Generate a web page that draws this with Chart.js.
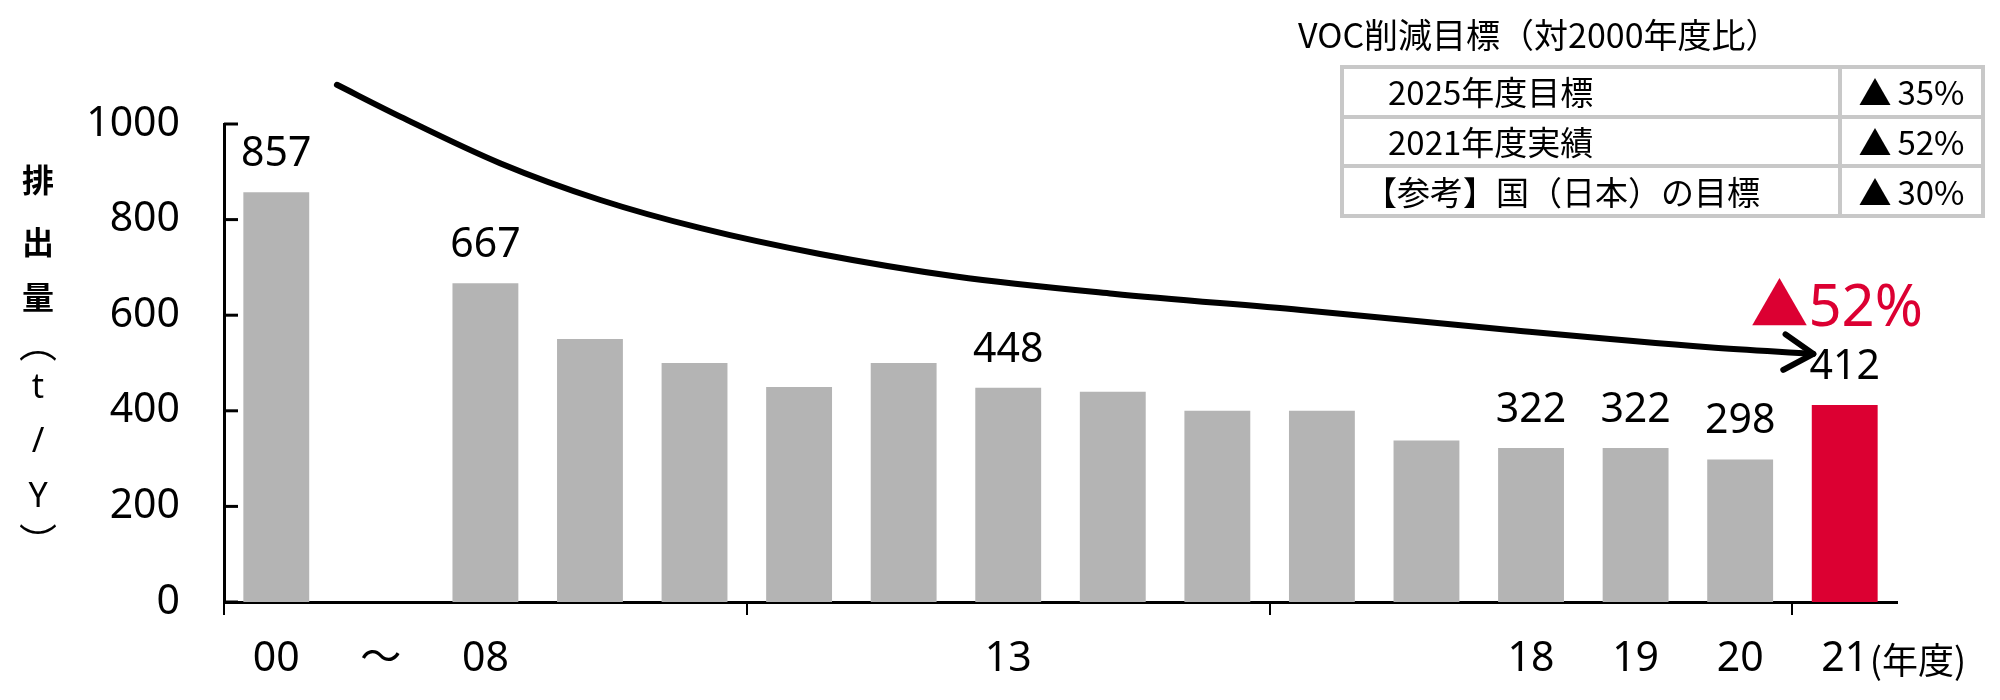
<!DOCTYPE html>
<html lang="ja">
<head>
<meta charset="utf-8">
<script src="https://cdn.jsdelivr.net/npm/chart.js@4/dist/chart.umd.min.js"></script>
<style>
    body { margin: 0; background: #fff; }
    #wrap { position: relative; width: 2000px; height: 700px; }
    #goal-title {
        position: absolute; left: 1298px; top: 9px;
        font: 34px 'Noto Sans CJK JP', sans-serif; color: #000; white-space: nowrap;
    }
    #goal-table {
        position: absolute; left: 1340px; top: 65px; width: 645px; height: 153px;
        border-collapse: collapse; font: 33px 'Noto Sans CJK JP', sans-serif;
    }
    #goal-table td { border: 4px solid #c8c8c8; padding: 0; white-space: nowrap; line-height: 1; }
    #goal-table td.name { width: 450px; padding-left: 44px; }
    #goal-table td.name.ref { padding-left: 20px; }
    #goal-table td.pct { text-align: center; }
    #goal-table td.pct span { margin-right: 6px; }
</style>
</head>
<body>
<div id="wrap">
    <canvas id="vocChart"></canvas>
    <div id="goal-title">VOC削減目標（対2000年度比）</div>
    <table id="goal-table"><tbody></tbody></table>
</div>
<script>
const years = ['00', '～', '08', '09', '10', '11', '12', '13', '14', '15', '16', '17', '18', '19', '20', '21'];
const tickLabels = ['00', '～', '08', '', '', '', '', '13', '', '', '', '', '18', '19', '20', '21'];
const emissions = [857, null, 667, 550, 500, 450, 500, 448, 440, 400, 400, 338, 322, 322, 298, 412];
const showValue = [true, false, true, false, false, false, false, true, false, false, false, false, true, true, true, true];
const yTicks = [0, 200, 400, 600, 800, 1000];

// trend arrow, in data units (category index, t/Y)
const curveX = [0.58, 1.19, 2.14, 3.10, 4.06, 5.2, 6.5, 8.0, 9.8, 11.8, 13.7, 14.7];
const curveY = [1082, 1015, 918, 841, 782, 728, 681, 645, 611, 569, 533, 519];

const goalNames = ['2025年度目標', '2021年度実績', '【参考】国（日本）の目標'];
const goalValues = ['35%', '52%', '30%'];
const reductionText = '▲52%';
const yTitleChars = ['排', '出', '量', '︵', 't', '/', 'Y', '︶'];
const unitText = '(年度)';

const GRAY = '#b4b4b4';
const RED = '#dc0032';
const FONT = "'Noto Sans', 'Noto Sans CJK JP', sans-serif";
const CJK = "'Noto Sans CJK JP', sans-serif";

// table
const tbody = document.querySelector('#goal-table tbody');
goalNames.forEach((name, i) => {
    const tr = document.createElement('tr');
    const a = document.createElement('td');
    a.className = i === 2 ? 'name ref' : 'name';
    a.textContent = name;
    const b = document.createElement('td');
    b.className = 'pct';
    const tri = document.createElement('span');
    tri.textContent = '▲';
    b.appendChild(tri);
    b.appendChild(document.createTextNode(goalValues[i]));
    tr.appendChild(a);
    tr.appendChild(b);
    tbody.appendChild(tr);
});

const extras = {
    id: 'extras',
    afterDatasetsDraw(chart) {
        const { ctx, scales: { x, y }, chartArea } = chart;
        ctx.save();

        // inward y ticks
        ctx.strokeStyle = '#000';
        ctx.lineWidth = 3;
        yTicks.forEach(v => {
            const py = y.getPixelForValue(v);
            ctx.beginPath();
            ctx.moveTo(chartArea.left, py);
            ctx.lineTo(chartArea.left + 14, py);
            ctx.stroke();
        });

        // value labels
        ctx.fillStyle = '#000';
        ctx.font = '41px ' + FONT;
        ctx.textAlign = 'center';
        ctx.textBaseline = 'middle';
        emissions.forEach((v, i) => {
            if (v == null || !showValue[i]) return;
            ctx.fillText(String(v), x.getPixelForValue(i), y.getPixelForValue(v) - 38);
        });

        // arrow head
        const pts = chart.getDatasetMeta(1).data;
        const tip = pts[pts.length - 1];
        const fromX = tip.cp1x !== undefined ? tip.cp1x : pts[pts.length - 2].x;
        const fromY = tip.cp1y !== undefined ? tip.cp1y : pts[pts.length - 2].y;
        const ang = Math.atan2(tip.y - fromY, tip.x - fromX);
        ctx.lineWidth = 6;
        ctx.lineCap = 'round';
        ctx.lineJoin = 'round';
        ctx.beginPath();
        ctx.moveTo(tip.x - 34 * Math.cos(ang - 0.55), tip.y - 34 * Math.sin(ang - 0.55));
        ctx.lineTo(tip.x, tip.y);
        ctx.lineTo(tip.x - 34 * Math.cos(ang + 0.55), tip.y - 34 * Math.sin(ang + 0.55));
        ctx.stroke();

        // reduction callout
        const last = emissions.length - 1;
        ctx.fillStyle = RED;
        ctx.font = '58px ' + FONT;
        ctx.textAlign = 'center';
        ctx.fillText(reductionText, x.getPixelForValue(last) - 8, y.getPixelForValue(emissions[last]) - 96);

        // (年度)
        ctx.fillStyle = '#000';
        ctx.font = '36px ' + CJK;
        ctx.textAlign = 'left';
        ctx.fillText(unitText, x.getPixelForValue(last) + 25, 660);

        // vertical y title
        const ys = [180, 242, 297, 343, 388, 442, 497, 542];
        ctx.textAlign = 'center';
        yTitleChars.forEach((c, i) => {
            if (i < 3) ctx.font = 'bold 32px ' + CJK;
            else if (c === '︵' || c === '︶') ctx.font = '38px ' + CJK;
            else ctx.font = '34px ' + FONT;
            ctx.fillText(c, 38, ys[i]);
        });
        ctx.restore();
    }
};

new Chart(document.getElementById('vocChart'), {
    type: 'bar',
    data: {
        labels: years,
        datasets: [{
            data: emissions,
            backgroundColor: emissions.map((v, i) => i === emissions.length - 1 ? RED : GRAY),
            barPercentage: 0.63,
            categoryPercentage: 1,
            grouped: false,
            order: 2
        }, {
            type: 'line',
            data: curveX.map((v, i) => ({ x: v, y: curveY[i] })),
            xAxisID: 'x2',
            borderColor: '#000',
            borderWidth: 6,
            borderCapStyle: 'round',
            pointRadius: 0,
            tension: 0.4,
            cubicInterpolationMode: 'monotone',
            clip: false,
            fill: false,
            order: 1
        }]
    },
    options: {
        responsive: true,
        maintainAspectRatio: false,
        animation: false,
        layout: { padding: { left: 0, right: 103, top: 124, bottom: 0 } },
        plugins: { legend: { display: false }, tooltip: { enabled: false } },
        scales: {
            x: {
                offset: true,
                grid: {
                    offset: true,
                    drawOnChartArea: false,
                    tickLength: 13,
                    lineWidth: 2,
                    color: c => (c.index !== undefined && c.index % 5 === 0) ? '#000' : 'rgba(0,0,0,0)'
                },
                border: { color: '#000', width: 3 },
                ticks: {
                    autoSkip: false,
                    maxRotation: 0,
                    padding: 20,
                    color: '#000',
                    font: { size: 41, family: FONT },
                    callback: (v, i) => tickLabels[i]
                },
                afterFit: s => { s.height = 98; }
            },
            x2: {
                type: 'linear',
                display: false,
                offset: false,
                grid: { offset: false },
                min: -0.5,
                max: years.length - 0.5
            },
            y: {
                min: 0,
                max: 1000,
                grid: { display: false },
                border: { color: '#000', width: 3 },
                ticks: {
                    stepSize: 200,
                    padding: 36,
                    color: '#000',
                    font: { size: 41, family: FONT },
                    callback: v => String(v)
                },
                afterFit: s => { s.width = 224; }
            }
        }
    },
    plugins: [extras]
});
</script>
</body>
</html>
